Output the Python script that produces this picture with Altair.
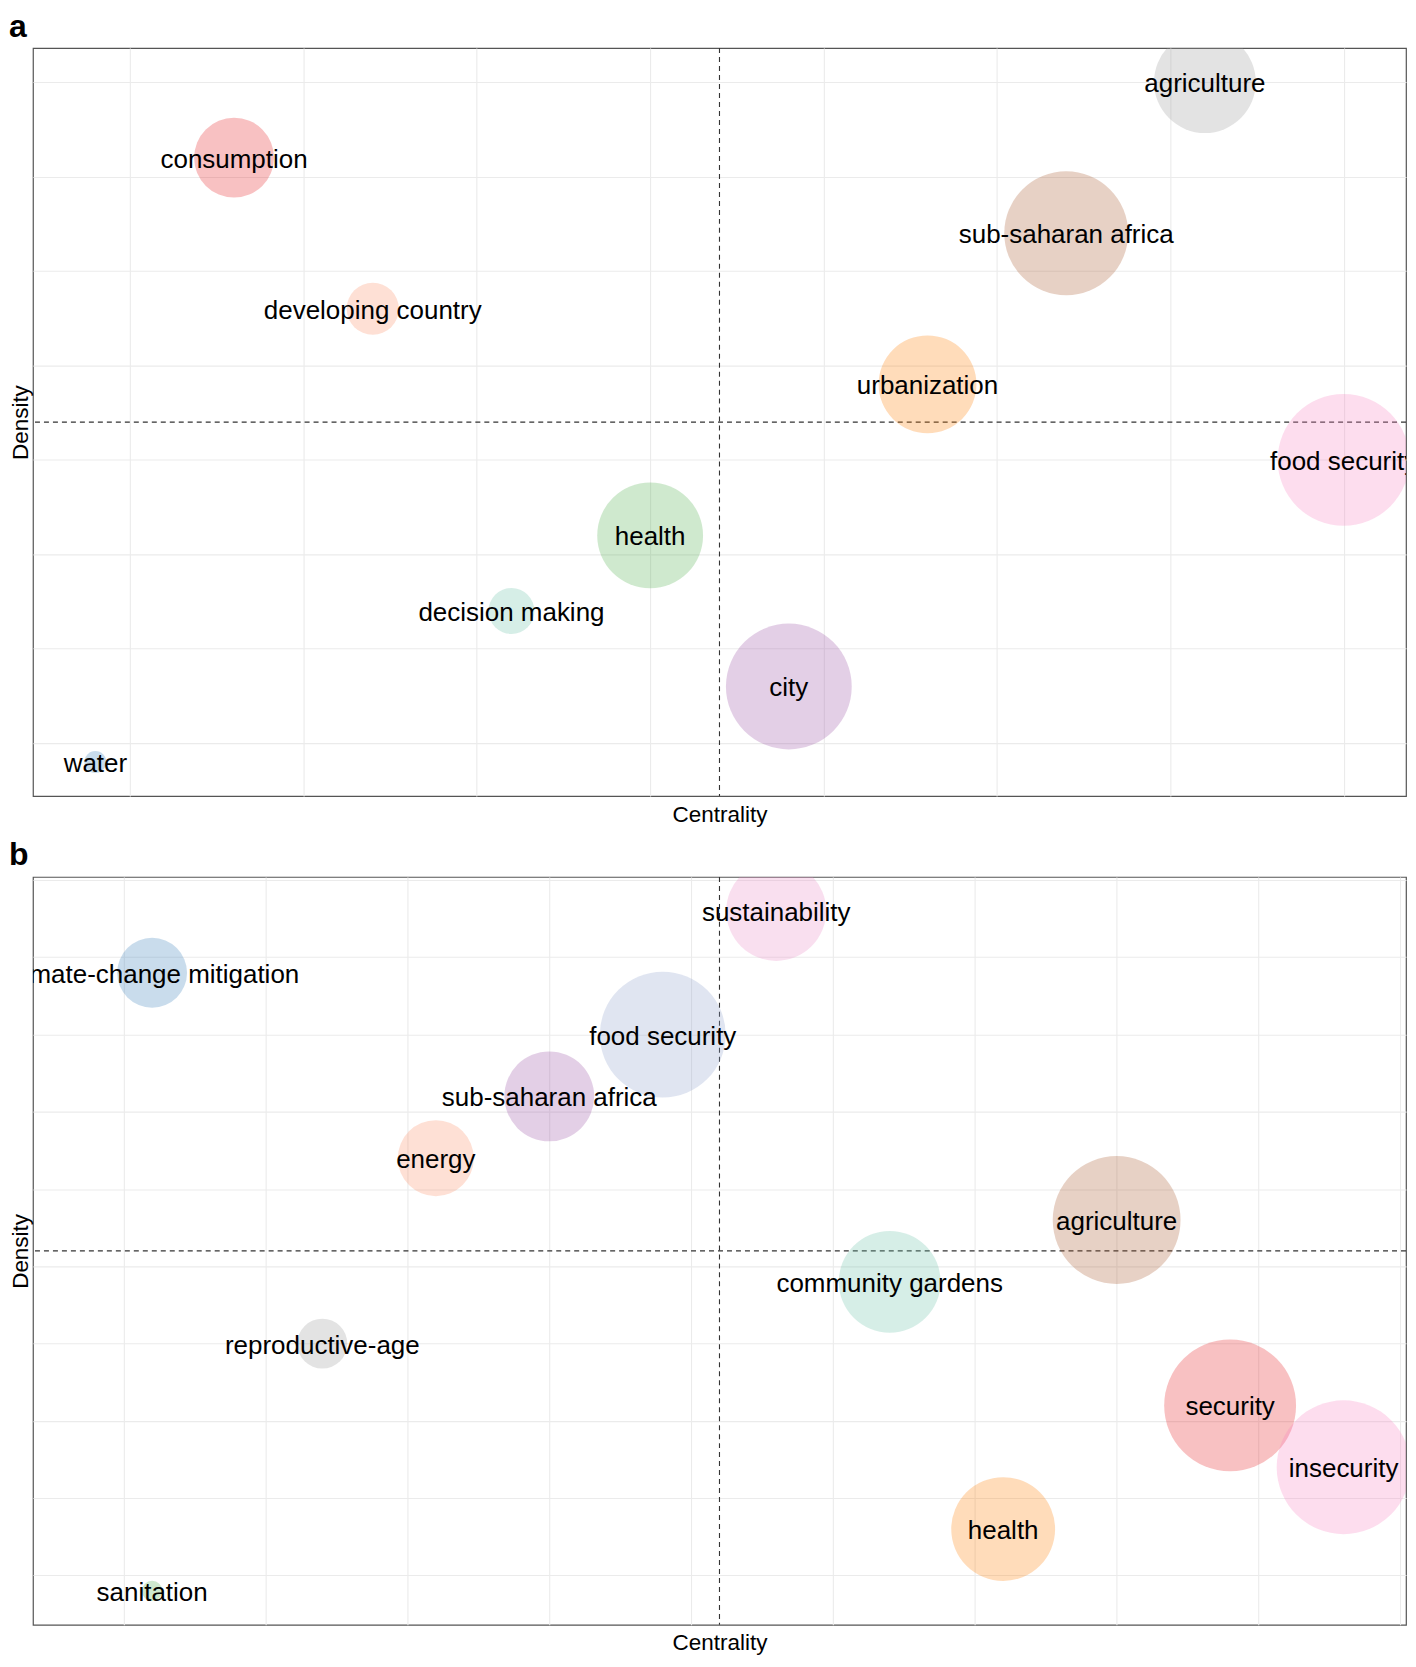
import altair as alt
import pandas as pd
import numpy as np

# ---------------- Panel a ----------------
a_terms = ["water", "consumption", "developing country", "decision making", "health",
           "city", "urbanization", "sub-saharan africa", "agriculture", "food security"]
a_centrality = [1, 2, 3, 4, 5, 6, 7, 8, 9, 10]
a_density = [1, 9, 7, 3, 4, 2, 6, 8, 10, 5]
a_freq = [15, 200, 85, 66, 351, 496, 300, 481, 325, 545]
a_colors = ["#377EB8", "#E41A1C", "#FC8D62", "#66C2A5", "#4DAF4A",
            "#984EA3", "#FF7F00", "#A65628", "#999999", "#F781BF"]

# ---------------- Panel b ----------------
b_terms = ["climate-change mitigation", "sanitation", "reproductive-age", "energy",
           "sub-saharan africa", "food security", "sustainability", "community gardens",
           "health", "agriculture", "security", "insecurity"]
b_centrality = [1.5, 1.5, 3, 4, 5, 6, 7, 8, 9, 10, 11, 12]
b_density = [11, 1, 5, 8, 9, 10, 12, 6, 2, 7, 4, 3]
b_freq = [153, 13, 78, 181, 253, 496, 313, 325, 338, 512, 545, 561]
b_colors = ["#377EB8", "#4DAF4A", "#999999", "#FC8D62", "#984EA3", "#8DA0CB",
            "#E78AC3", "#66C2A5", "#FF7F00", "#A65628", "#E41A1C", "#F781BF"]

FONT = "Liberation Sans"
GRID = "#EBEBEB"
PW, PH = 1375, 749


def panel(terms, cen, den, freq, colors, letter):
    df = pd.DataFrame({"term": terms, "centrality": cen, "density": den,
                       "freq": freq, "color": colors})
    n = len(terms)
    lo, hi = 1 - 0.05 * (n - 1), n + 0.05 * (n - 1)
    grid_vals = [1.25 * k for k in range(1, 20) if 1.25 * k <= hi]
    means = pd.DataFrame({"centrality": [float(np.mean(cen))],
                          "density": [float(np.mean(den))]})

    xenc = alt.X("centrality:Q",
                 scale=alt.Scale(domain=[lo, hi], nice=False, zero=False),
                 axis=alt.Axis(values=grid_vals, labels=False, ticks=False, domain=False,
                               grid=True, gridColor=GRID, gridWidth=1.1,
                               title="Centrality", titleFont=FONT, titleFontSize=22.5,
                               titleFontWeight="normal", titleColor="black",
                               titlePadding=7))
    yenc = alt.Y("density:Q",
                 scale=alt.Scale(domain=[lo, hi], nice=False, zero=False),
                 axis=alt.Axis(values=grid_vals, labels=False, ticks=False, domain=False,
                               grid=True, gridColor=GRID, gridWidth=1.1,
                               title="Density", titleFont=FONT, titleFontSize=22.5,
                               titleFontWeight="normal", titleColor="black",
                               titlePadding=0))

    vrule = alt.Chart(means).mark_rule(strokeDash=[5, 4], color="#333333",
                                       strokeWidth=1.1).encode(x=xenc)
    hrule = alt.Chart(means).mark_rule(strokeDash=[5, 4], color="#333333",
                                       strokeWidth=1.1).encode(y=yenc)
    bubbles = alt.Chart(df).mark_circle(clip=True, opacity=0.27).encode(
        x=xenc, y=yenc,
        size=alt.Size("freq:Q", scale=alt.Scale(domain=[0, 1000], range=[0, 32000]),
                      legend=None),
        color=alt.Color("color:N", scale=None),
    )
    labels = alt.Chart(df).mark_text(clip=True, font=FONT, fontSize=26, color="black",
                                     baseline="middle", dy=2).encode(
        x=xenc, y=yenc, text="term:N")

    return alt.layer(vrule, hrule, bubbles, labels).properties(
        width=PW, height=PH,
        title=alt.TitleParams(text=letter, anchor="start", frame="group", dx=-24,
                              offset=4, font=FONT, fontSize=32, fontWeight="bold",
                              color="black"))


pa = panel(a_terms, a_centrality, a_density, a_freq, a_colors, "a")
pb = panel(b_terms, b_centrality, b_density, b_freq, b_colors, "b")

chart = alt.vconcat(pa, pb, spacing=11).properties(
    padding={"left": 0, "top": 0, "right": 0, "bottom": 0}
).configure_view(stroke="#555555", strokeWidth=1.2)

chart.save("out.html", embed_options={"renderer": "svg", "actions": False})
